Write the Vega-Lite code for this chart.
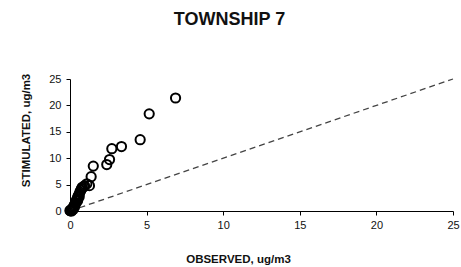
{
  "$schema": "https://vega.github.io/schema/vega-lite/v6.json",
  "autosize": "none",
  "width": 383,
  "height": 132,
  "padding": {"left": 70, "top": 79, "right": 8, "bottom": 56},
  "background": "white",
  "config": {
    "view": {"stroke": null},
    "font": "Liberation Sans"
  },
  "title": {
    "text": "TOWNSHIP 7",
    "fontSize": 18,
    "fontWeight": "bold",
    "color": "#111",
    "font": "Liberation Sans",
    "anchor": "middle",
    "frame": "group",
    "dx": -32,
    "offset": 43
  },
  "datasets": {
    "pts": [
      {"obs": 6.89, "sim": 21.4},
      {"obs": 5.17, "sim": 18.4},
      {"obs": 4.58, "sim": 13.5},
      {"obs": 3.36, "sim": 12.2},
      {"obs": 2.73, "sim": 11.8},
      {"obs": 2.58, "sim": 9.75},
      {"obs": 2.4, "sim": 8.8},
      {"obs": 1.52, "sim": 8.5},
      {"obs": 1.38, "sim": 6.5},
      {"obs": 1.27, "sim": 4.8},
      {"obs": 1.1, "sim": 5.15},
      {"obs": 0.95, "sim": 4.8},
      {"obs": 0.9, "sim": 4.6},
      {"obs": 0.8, "sim": 4.5},
      {"obs": 0.75, "sim": 4.2},
      {"obs": 0.7, "sim": 3.9},
      {"obs": 0.65, "sim": 3.6},
      {"obs": 0.6, "sim": 3.2},
      {"obs": 0.6, "sim": 2.7},
      {"obs": 0.55, "sim": 2.9},
      {"obs": 0.5, "sim": 2.6},
      {"obs": 0.5, "sim": 2.0},
      {"obs": 0.45, "sim": 2.2},
      {"obs": 0.4, "sim": 1.9},
      {"obs": 0.4, "sim": 1.5},
      {"obs": 0.35, "sim": 1.5},
      {"obs": 0.3, "sim": 1.2},
      {"obs": 0.3, "sim": 0.8},
      {"obs": 0.25, "sim": 0.9},
      {"obs": 0.2, "sim": 0.6},
      {"obs": 0.2, "sim": 0.3},
      {"obs": 0.15, "sim": 0.4},
      {"obs": 0.12, "sim": 0.3},
      {"obs": 0.1, "sim": 0.2},
      {"obs": 0.1, "sim": 0.0},
      {"obs": 0.08, "sim": 0.05},
      {"obs": 0.05, "sim": 0.1},
      {"obs": 0.02, "sim": 0.02},
      {"obs": 0.0, "sim": 0.1}
    ],
    "line": [
      {"obs": 0, "sim": 0},
      {"obs": 25, "sim": 25}
    ]
  },
  "encoding": {
    "x": {
      "field": "obs", "type": "quantitative",
      "scale": {"domain": [0, 25], "nice": false, "zero": true},
      "axis": {
        "values": [0, 5, 10, 15, 20, 25],
        "grid": false,
        "title": "OBSERVED, ug/m3",
        "titleFont": "Liberation Sans",
        "titleFontSize": 11.5,
        "titleFontWeight": "bold",
        "titleColor": "#111",
        "titleX": 168,
        "titleY": 51,
        "titleBaseline": "alphabetic",
        "titleAnchor": "middle",
        "titleAlign": "center",
        "labelFont": "Liberation Sans",
        "labelFontSize": 11,
        "labelColor": "#111",
        "labelPadding": 4,
        "labelOverlap": false,
        "domainColor": "#000",
        "tickColor": "#000",
        "tickSize": 4,
        "labelFlush": false
      }
    },
    "y": {
      "field": "sim", "type": "quantitative",
      "scale": {"domain": [0, 25], "nice": false, "zero": true},
      "axis": {
        "values": [0, 5, 10, 15, 20, 25],
        "tickCount": 6,
        "grid": false,
        "title": "STIMULATED,  ug/m3",
        "titleFont": "Liberation Sans",
        "titleFontSize": 11.5,
        "titleFontWeight": "bold",
        "titleColor": "#111",
        "titleX": -39,
        "titleY": 51,
        "titleAnchor": "middle",
        "titleAlign": "center",
        "labelFont": "Liberation Sans",
        "labelFontSize": 11,
        "labelColor": "#111",
        "labelPadding": 5,
        "labelOverlap": false,
        "domainColor": "#000",
        "tickColor": "#000",
        "tickSize": 4,
        "labelFlush": false
      }
    }
  },
  "layer": [
    {
      "data": {"name": "line"},
      "mark": {"type": "line", "color": "#444", "strokeWidth": 1.3, "strokeDash": [6, 4]}
    },
    {
      "data": {"name": "pts"},
      "mark": {"type": "point", "shape": "circle", "filled": false, "color": "#000", "strokeWidth": 2, "size": 85, "opacity": 1}
    }
  ]
}
